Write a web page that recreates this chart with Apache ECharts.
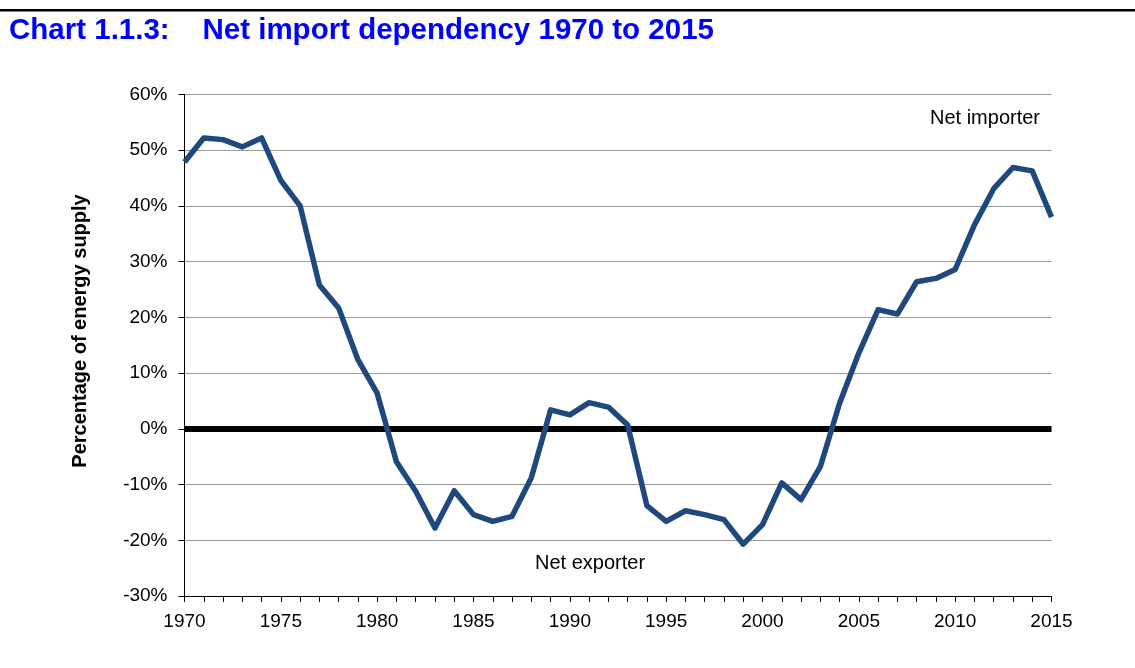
<!DOCTYPE html>
<html>
<head>
<meta charset="utf-8">
<script src="https://cdn.jsdelivr.net/npm/echarts@6/dist/echarts.min.js"></script>
<style>
html,body{margin:0;padding:0;background:#fff;}
#chart{width:1135px;height:668px;}
</style>
</head>
<body>
<div id="chart"></div>
<script>
var years = ['1970','1971','1972','1973','1974','1975','1976','1977','1978','1979',
  '1980','1981','1982','1983','1984','1985','1986','1987','1988','1989',
  '1990','1991','1992','1993','1994','1995','1996','1997','1998','1999',
  '2000','2001','2002','2003','2004','2005','2006','2007','2008','2009',
  '2010','2011','2012','2013','2014','2015'];
var netImportDependency = [47.9,52.2,51.9,50.6,52.2,44.6,40.0,25.8,21.7,12.4,
  6.4,-5.9,-11.2,-17.8,-11.1,-15.4,-16.6,-15.7,-8.8,3.4,
  2.5,4.7,3.9,0.7,-13.8,-16.6,-14.7,-15.4,-16.3,-20.7,
  -17.2,-9.7,-12.7,-6.8,4.6,13.6,21.4,20.6,26.4,27.0,
  28.6,36.6,43.1,46.9,46.3,38.0];
var yTicks = {min: -30, max: 60, step: 10};
var titleText = 'Chart 1.1.3:    Net import dependency 1970 to 2015';
var yAxisName = 'Percentage of energy supply';
var labelImporter = 'Net importer';
var labelExporter = 'Net exporter';

var FONT = 'Liberation Sans, Arial, sans-serif';
var chart = echarts.init(document.getElementById('chart'), null, {renderer: 'canvas'});
chart.setOption({
  animation: false,
  backgroundColor: '#ffffff',
  grid: {left: 184.5, right: 83.5, top: 94.5, bottom: 72, containLabel: false},
  graphic: [
    {type: 'rect', shape: {x: 0, y: 9, width: 1135, height: 2.5}, style: {fill: '#000'}},
    {type: 'text', x: 9, y: 31, style: {text: titleText, font: 'bold 29.5px ' + FONT, fill: '#0000ff', verticalAlign: 'middle', align: 'left'}},
    {type: 'text', x: 80, y: 331, rotation: Math.PI / 2, style: {text: yAxisName, font: 'bold 20px ' + FONT, fill: '#000', verticalAlign: 'middle', align: 'center'}},
    {type: 'text', x: 930, y: 118, style: {text: labelImporter, font: '20px ' + FONT, fill: '#000', verticalAlign: 'middle', align: 'left'}},
    {type: 'text', x: 535, y: 563, style: {text: labelExporter, font: '20px ' + FONT, fill: '#000', verticalAlign: 'middle', align: 'left'}}
  ],
  xAxis: {
    type: 'category',
    data: years,
    boundaryGap: false,
    axisLine: {show: true, onZero: false, lineStyle: {color: '#000', width: 1}},
    axisTick: {show: true, interval: 0, length: 6, lineStyle: {color: '#000'}},
    axisLabel: {interval: 4, color: '#000', fontFamily: FONT, fontSize: 19, margin: 16},
    splitLine: {show: false}
  },
  yAxis: {
    type: 'value',
    min: yTicks.min, max: yTicks.max, interval: yTicks.step,
    axisLine: {show: true, lineStyle: {color: '#000', width: 1}},
    axisTick: {show: true, length: 6, lineStyle: {color: '#000'}},
    axisLabel: {formatter: '{value}%', color: '#000', fontFamily: FONT, fontSize: 19, margin: 17},
    splitLine: {show: true, lineStyle: {color: '#999', width: 1}}
  },
  series: [
    {
      type: 'line', name: 'zero', data: [], z: 1, silent: true,
      markLine: {
        silent: true, symbol: 'none', label: {show: false},
        lineStyle: {color: '#000', width: 6, type: 'solid'},
        data: [{yAxis: 0}]
      }
    },
    {
      type: 'line', name: 'Net import dependency', data: netImportDependency, z: 5,
      showSymbol: false, symbol: 'none',
      lineStyle: {color: '#1F497D', width: 5.5, join: 'round'},
      itemStyle: {color: '#1F497D'}
    }
  ]
});
</script>
</body>
</html>
